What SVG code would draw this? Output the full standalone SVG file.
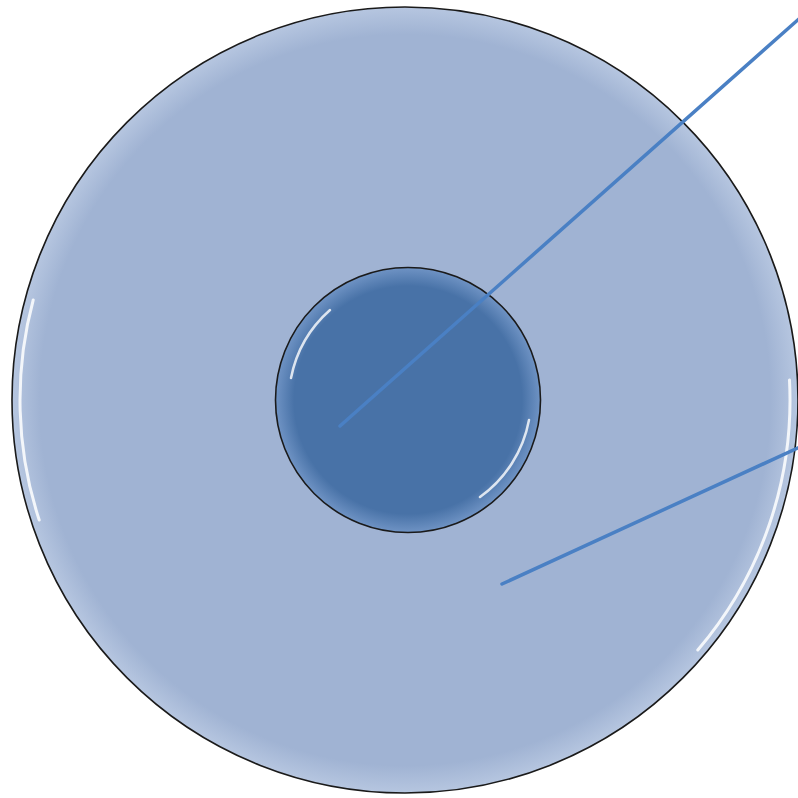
<svg xmlns="http://www.w3.org/2000/svg" width="798" height="798" viewBox="0 0 798 798">
<defs>
<style>
.outline{stroke:#1a1a1a;stroke-width:1.6}
.hl{fill:none;stroke:#ffffff;stroke-linecap:round}
.conn{stroke:#4a80c4;stroke-width:3.5;stroke-linecap:round;fill:none}
</style>
<radialGradient id="gOuter" cx="0.5" cy="0.5" r="0.5">
<stop offset="0.93" stop-color="#a0b3d3"/>
<stop offset="1" stop-color="#b6c6e0"/>
</radialGradient>
<radialGradient id="gInner" cx="0.5" cy="0.5" r="0.5">
<stop offset="0.86" stop-color="#4872a7"/>
<stop offset="1" stop-color="#6f93c4"/>
</radialGradient>
</defs>
<rect width="798" height="798" fill="#ffffff"/>
<g id="outer">
<circle cx="405" cy="400" r="393" fill="url(#gOuter)" class="outline"/>
<path class="hl" d="M 33.2 300 A 385 385 0 0 0 39.2 520" stroke-width="3" opacity="0.85"/>
<path class="hl" d="M 789.5 380 A 385 385 0 0 1 697.8 650" stroke-width="3" opacity="0.85"/>
</g>
<g id="inner">
<circle cx="408" cy="400" r="132.5" fill="url(#gInner)" class="outline"/>
<path class="hl" d="M 291 378 A 122 122 0 0 1 330 310" stroke-width="2.5" opacity="0.8"/>
<path class="hl" d="M 529 420 A 122 122 0 0 1 480 497" stroke-width="2.5" opacity="0.8"/>
</g>
<g id="connectors">
<line class="conn" x1="340" y1="426" x2="800" y2="18"/>
<line class="conn" x1="502" y1="584" x2="800" y2="447"/>
</g>
</svg>
